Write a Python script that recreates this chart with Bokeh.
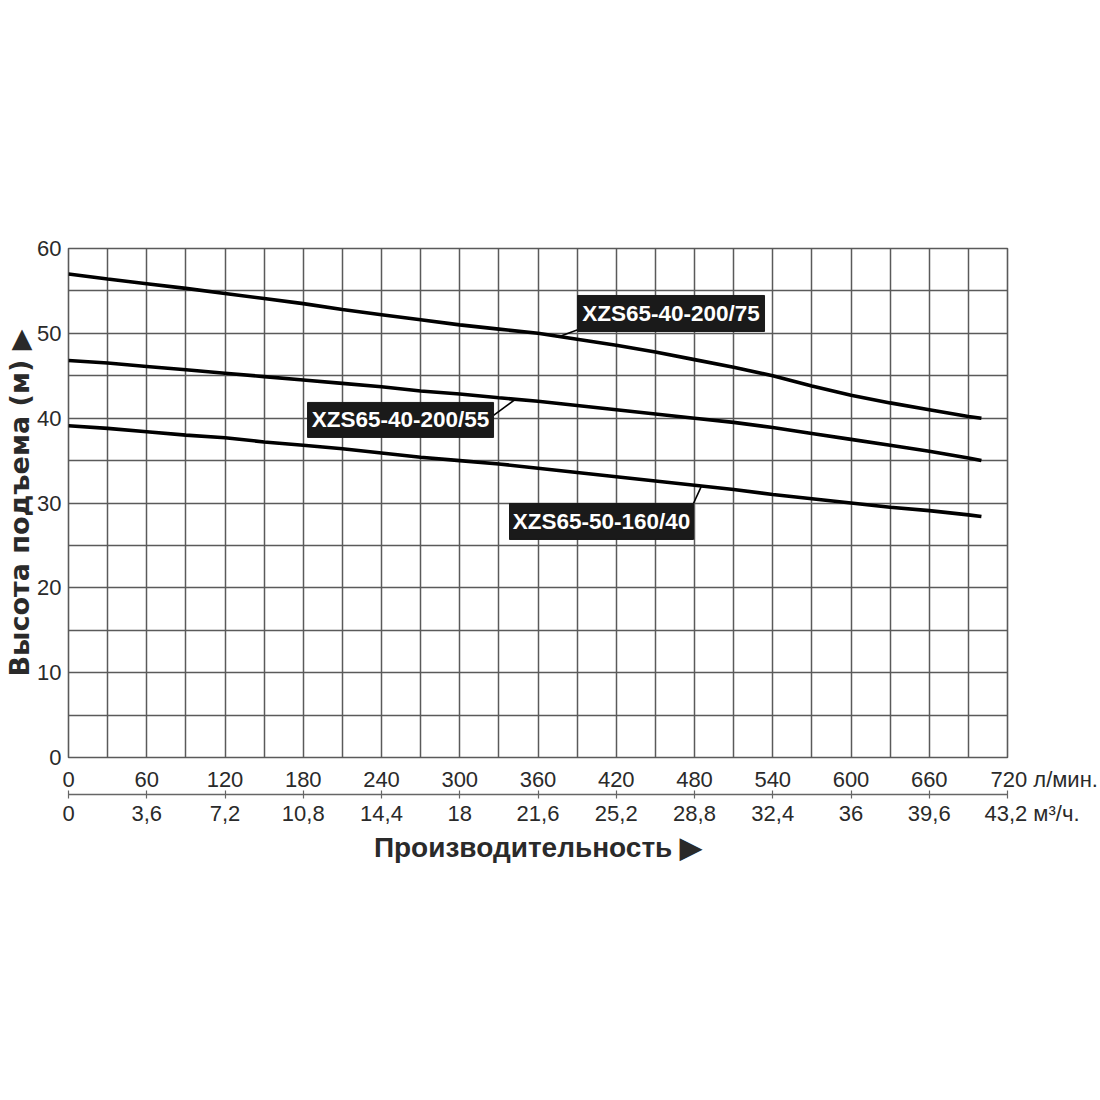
import numpy as np
from bokeh.plotting import figure
from bokeh.models import LinearAxis, FixedTicker, Range1d, Grid
from bokeh.core.properties import value
from bokeh.embed import file_html
from bokeh.resources import INLINE

# ---- data ----
flow = [0, 30, 60, 90, 120, 150, 180, 210, 240, 270, 300, 330, 360, 390,
        420, 450, 480, 510, 540, 570, 600, 630, 660, 690, 700]
head_75 = [57.0, 56.4, 55.85, 55.3, 54.7, 54.1, 53.5, 52.8, 52.2, 51.6, 51.0, 50.5,
           50.0, 49.3, 48.6, 47.8, 46.9, 46.0, 45.0, 43.8, 42.7, 41.8, 41.0, 40.2, 40.0]
head_55 = [46.8, 46.5, 46.1, 45.7, 45.3, 44.9, 44.5, 44.1, 43.7, 43.2, 42.85, 42.4,
           42.0, 41.5, 41.0, 40.5, 40.0, 39.5, 38.9, 38.2, 37.5, 36.8, 36.1, 35.3, 35.0]
head_40 = [39.1, 38.8, 38.4, 38.0, 37.7, 37.2, 36.8, 36.4, 35.9, 35.4, 35.0, 34.6,
           34.1, 33.6, 33.1, 32.6, 32.1, 31.6, 31.0, 30.5, 30.0, 29.5, 29.1, 28.6, 28.4]
series_names = ["XZS65-40-200/75", "XZS65-40-200/55", "XZS65-50-160/40"]

x_ticks_lmin = [0, 60, 120, 180, 240, 300, 360, 420, 480, 540, 600, 660, 720]
x_labels_lmin = ["0", "60", "120", "180", "240", "300", "360", "420", "480",
                 "540", "600", "660", "720"]
x_labels_m3h = ["0", "3,6", "7,2", "10,8", "14,4", "18", "21,6", "25,2",
                "28,8", "32,4", "36", "39,6", "43,2"]
unit_lmin = "л/мин."
unit_m3h = "м³/ч."
y_ticks = [0, 10, 20, 30, 40, 50, 60]

FONT = "Liberation Sans"
GRID = "#5a5a5a"
TXT = "#2a2a2a"
FSP = "\u2007"   # figure space (digit width) used to keep the number centred
NBSP = "\u00a0"

W, H = 1098, 900
p = figure(width=W, height=H, output_backend="svg", toolbar_location=None,
           x_range=Range1d(0, 720), y_range=Range1d(0, 60),
           min_border_left=68, min_border_right=W - 1007, min_border_top=248,
           min_border_bottom=H - 757, x_axis_type=None, y_axis_type=None)
p.outline_line_color = GRID
p.outline_line_width = 1.6
p.background_fill_color = "white"
p.border_fill_color = "white"

# y axis
yax = LinearAxis(ticker=FixedTicker(ticks=y_ticks))
yax.axis_line_color = None
yax.major_tick_line_color = None
yax.minor_tick_line_color = None
yax.major_label_text_font = FONT
yax.major_label_text_font_size = "22px"
yax.major_label_text_color = TXT
yax.major_label_standoff = 1
yax.axis_label = "Высота подъема (м) ▶"
yax.axis_label_text_font = "DejaVu Sans"
yax.axis_label_text_font_style = "bold"
yax.axis_label_text_font_size = "27px"
yax.axis_label_text_color = TXT
yax.axis_label_standoff = -1
p.add_layout(yax, "left")

# x axis (l/min) - unit text appended to the last label, padded so the number stays centred
lab1 = list(x_labels_lmin)
lab1[-1] = FSP * 6 + lab1[-1] + NBSP + unit_lmin
xax1 = LinearAxis(ticker=FixedTicker(ticks=x_ticks_lmin))
xax1.major_label_overrides = {t: l for t, l in zip(x_ticks_lmin, lab1)}
xax1.axis_line_color = None
xax1.major_tick_line_color = None
xax1.major_tick_out = 0
xax1.minor_tick_line_color = None
xax1.major_label_text_font = FONT
xax1.major_label_text_font_size = "22px"
xax1.major_label_text_color = TXT
xax1.major_label_standoff = 9
p.add_layout(xax1, "below")

# x axis (m3/h)
lab2 = list(x_labels_m3h)
lab2[-1] = FSP * 4 + lab2[-1] + NBSP + unit_m3h
xax2 = LinearAxis(ticker=FixedTicker(ticks=x_ticks_lmin))
xax2.major_label_overrides = {t: l for t, l in zip(x_ticks_lmin, lab2)}
xax2.axis_line_color = "#666666"
xax2.axis_line_width = 1.5
xax2.major_tick_line_color = "#666666"
xax2.major_tick_line_width = 1.2
xax2.major_tick_in = 4
xax2.major_tick_out = 4
xax2.minor_tick_line_color = None
xax2.major_label_text_font = FONT
xax2.major_label_text_font_size = "22px"
xax2.major_label_text_color = TXT
xax2.major_label_standoff = 2
xax2.axis_label = "Производительность ▶"
xax2.axis_label_text_font = FONT
xax2.axis_label_text_font_style = "bold"
xax2.axis_label_text_font_size = "28px"
xax2.axis_label_text_color = TXT
xax2.axis_label_standoff = 3
p.add_layout(xax2, "below")

# grid
p.add_layout(Grid(dimension=0, ticker=FixedTicker(ticks=list(range(0, 721, 30))),
                  grid_line_color=GRID, grid_line_width=1.5))
p.add_layout(Grid(dimension=1, ticker=FixedTicker(ticks=list(range(0, 61, 5))),
                  grid_line_color=GRID, grid_line_width=1.5))

# curves
for h in (head_75, head_55, head_40):
    p.line(flow, h, line_color="black", line_width=3.6)

# series name boxes with leader lines
box_centers = [(462, 52.34), (254.6, 39.79), (408.7, 27.82)]
box_sizes = [(187, 36), (186, 35), (184, 36)]
leader_start = [(391, 50.45), (325.9, 40.32), (479.2, 29.94)]
leader_end_x = [376.5, 342.7, 485.4]
for name, h, (cx, cy), (bw, bh), (sx, sy), ex in zip(
        series_names, (head_75, head_55, head_40), box_centers, box_sizes,
        leader_start, leader_end_x):
    ey = float(np.interp(ex, flow, h))
    p.segment(x0=[sx], y0=[sy], x1=[ex], y1=[ey], line_color="black", line_width=1.6)
    p.rect(x=[cx], y=[cy], width=bw, height=bh, width_units="screen",
           height_units="screen", fill_color="#1a1a1a", line_color="#1a1a1a")
    p.text(x=[cx], y=[cy], text=[name], text_color="white",
           text_font=value(FONT), text_font_style="bold",
           text_font_size="22.5px", text_align="center", text_baseline="middle")

open("out.html", "w").write(file_html(p, INLINE))
